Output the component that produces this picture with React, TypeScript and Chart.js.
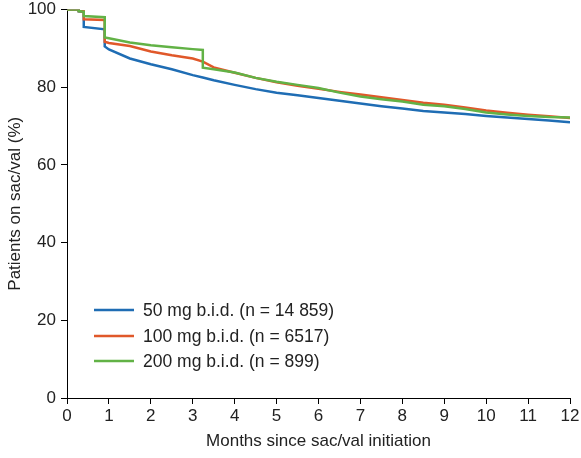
import React, { useEffect, useRef } from "react";
import { Chart, registerables } from "chart.js";

Chart.register(...registerables);

const months = [0, 0.28, 0.28, 0.4, 0.4, 0.9, 0.9, 1.0, 1.5, 2, 2.5, 3, 3.24, 3.24, 3.5, 4, 4.5, 5, 5.5, 6, 6.5, 7, 7.5, 8, 8.5, 9, 9.5, 10, 10.5, 11, 11.5, 12];
const dose50 = [100, 100, 99.5, 99.4, 95.5, 94.9, 90.5, 89.7, 87.4, 85.9, 84.6, 83.1, 82.5, 82.5, 81.8, 80.6, 79.5, 78.6, 77.9, 77.2, 76.5, 75.8, 75.1, 74.5, 73.9, 73.5, 73.1, 72.6, 72.2, 71.8, 71.4, 71.0];
const dose100 = [100, 100, 99.6, 99.5, 97.5, 97.3, 91.7, 91.4, 90.6, 89.2, 88.2, 87.4, 86.6, 86.6, 85.1, 83.7, 82.4, 81.3, 80.4, 79.6, 78.8, 78.1, 77.4, 76.7, 76.0, 75.5, 74.8, 74.0, 73.4, 72.9, 72.5, 72.1];
const dose200 = [100, 100, 99.6, 99.4, 98.3, 98.0, 92.8, 92.6, 91.5, 90.8, 90.3, 89.8, 89.6, 85.0, 84.6, 83.8, 82.4, 81.4, 80.6, 79.8, 78.6, 77.6, 76.9, 76.3, 75.5, 75.1, 74.4, 73.5, 73.0, 72.6, 72.3, 72.2];

const seriesLabels = ["50 mg b.i.d. (n = 14 859)", "100 mg b.i.d. (n = 6517)", "200 mg b.i.d. (n = 899)"];
const seriesColors = ["#1f6db4", "#e0582a", "#62b246"];
const xTitle = "Months since sac/val initiation";
const yTitle = "Patients on sac/val (%)";

const FONT = "'Liberation Sans', Arial, sans-serif";
const TEXT = "#222";

const legendPlugin = {
  id: "insideLegend",
  afterDraw(chart: any) {
    const ctx = chart.ctx;
    const { left, bottom } = chart.chartArea;
    const offsets = [88, 62, 37];
    ctx.save();
    ctx.font = `17.5px ${FONT}`;
    ctx.textBaseline = "middle";
    ctx.textAlign = "left";
    seriesLabels.forEach((lab, i) => {
      const y = bottom - offsets[i];
      ctx.strokeStyle = seriesColors[i];
      ctx.lineWidth = 2.5;
      ctx.beginPath();
      ctx.moveTo(left + 27, y);
      ctx.lineTo(left + 67, y);
      ctx.stroke();
      ctx.fillStyle = TEXT;
      ctx.fillText(lab, left + 76, y + 1);
    });
    ctx.restore();
  },
};

export default function App() {
  const ref = useRef<HTMLCanvasElement | null>(null);
  useEffect(() => {
    if (!ref.current) return;
    const series = [dose50, dose100, dose200];
    const chart = new Chart(ref.current, {
      type: "scatter",
      data: {
        datasets: series.map((vals, i) => ({
          label: seriesLabels[i],
          data: months.map((m, j) => ({ x: m, y: vals[j] })),
          showLine: true,
          borderColor: seriesColors[i],
          backgroundColor: seriesColors[i],
          borderWidth: 2.5,
          pointRadius: 0,
          tension: 0,
          order: 2 - i,
        })),
      },
      options: {
        animation: false,
        responsive: true,
        maintainAspectRatio: false,
        layout: { padding: { left: 0, right: 11, top: 9.5, bottom: 0 } },
        plugins: { legend: { display: false }, tooltip: { enabled: false } },
        scales: {
          x: {
            type: "linear",
            min: 0,
            max: 12,
            ticks: { stepSize: 1, color: TEXT, font: { family: FONT, size: 17 }, padding: 2, maxRotation: 0 },
            grid: { display: true, drawOnChartArea: false, drawTicks: true, tickLength: 6, color: "#000" },
            border: { color: "#000", width: 1 },
            title: { display: true, text: xTitle, color: TEXT, font: { family: FONT, size: 17 }, padding: { top: 4, bottom: 6 } },
            afterFit: (s: any) => { s.height = 60; s.paddingLeft = 0; s.paddingRight = 0; },
          },
          y: {
            min: 0,
            max: 100,
            ticks: { stepSize: 20, color: TEXT, font: { family: FONT, size: 17 }, padding: 5 },
            grid: { display: true, drawOnChartArea: false, drawTicks: true, tickLength: 6, color: "#000" },
            border: { color: "#000", width: 1 },
            title: { display: true, text: yTitle, color: TEXT, font: { family: FONT, size: 17 }, padding: { top: 5, bottom: 4 } },
            afterFit: (s: any) => { s.width = 67; s.paddingTop = 0; s.paddingBottom = 0; },
          },
        },
      },
      plugins: [legendPlugin],
    });
    return () => chart.destroy();
  }, []);
  return (
    <div style={{ position: "absolute", left: 0, top: 0, width: 581, height: 458, background: "#fff" }}>
      <canvas ref={ref} />
    </div>
  );
}
